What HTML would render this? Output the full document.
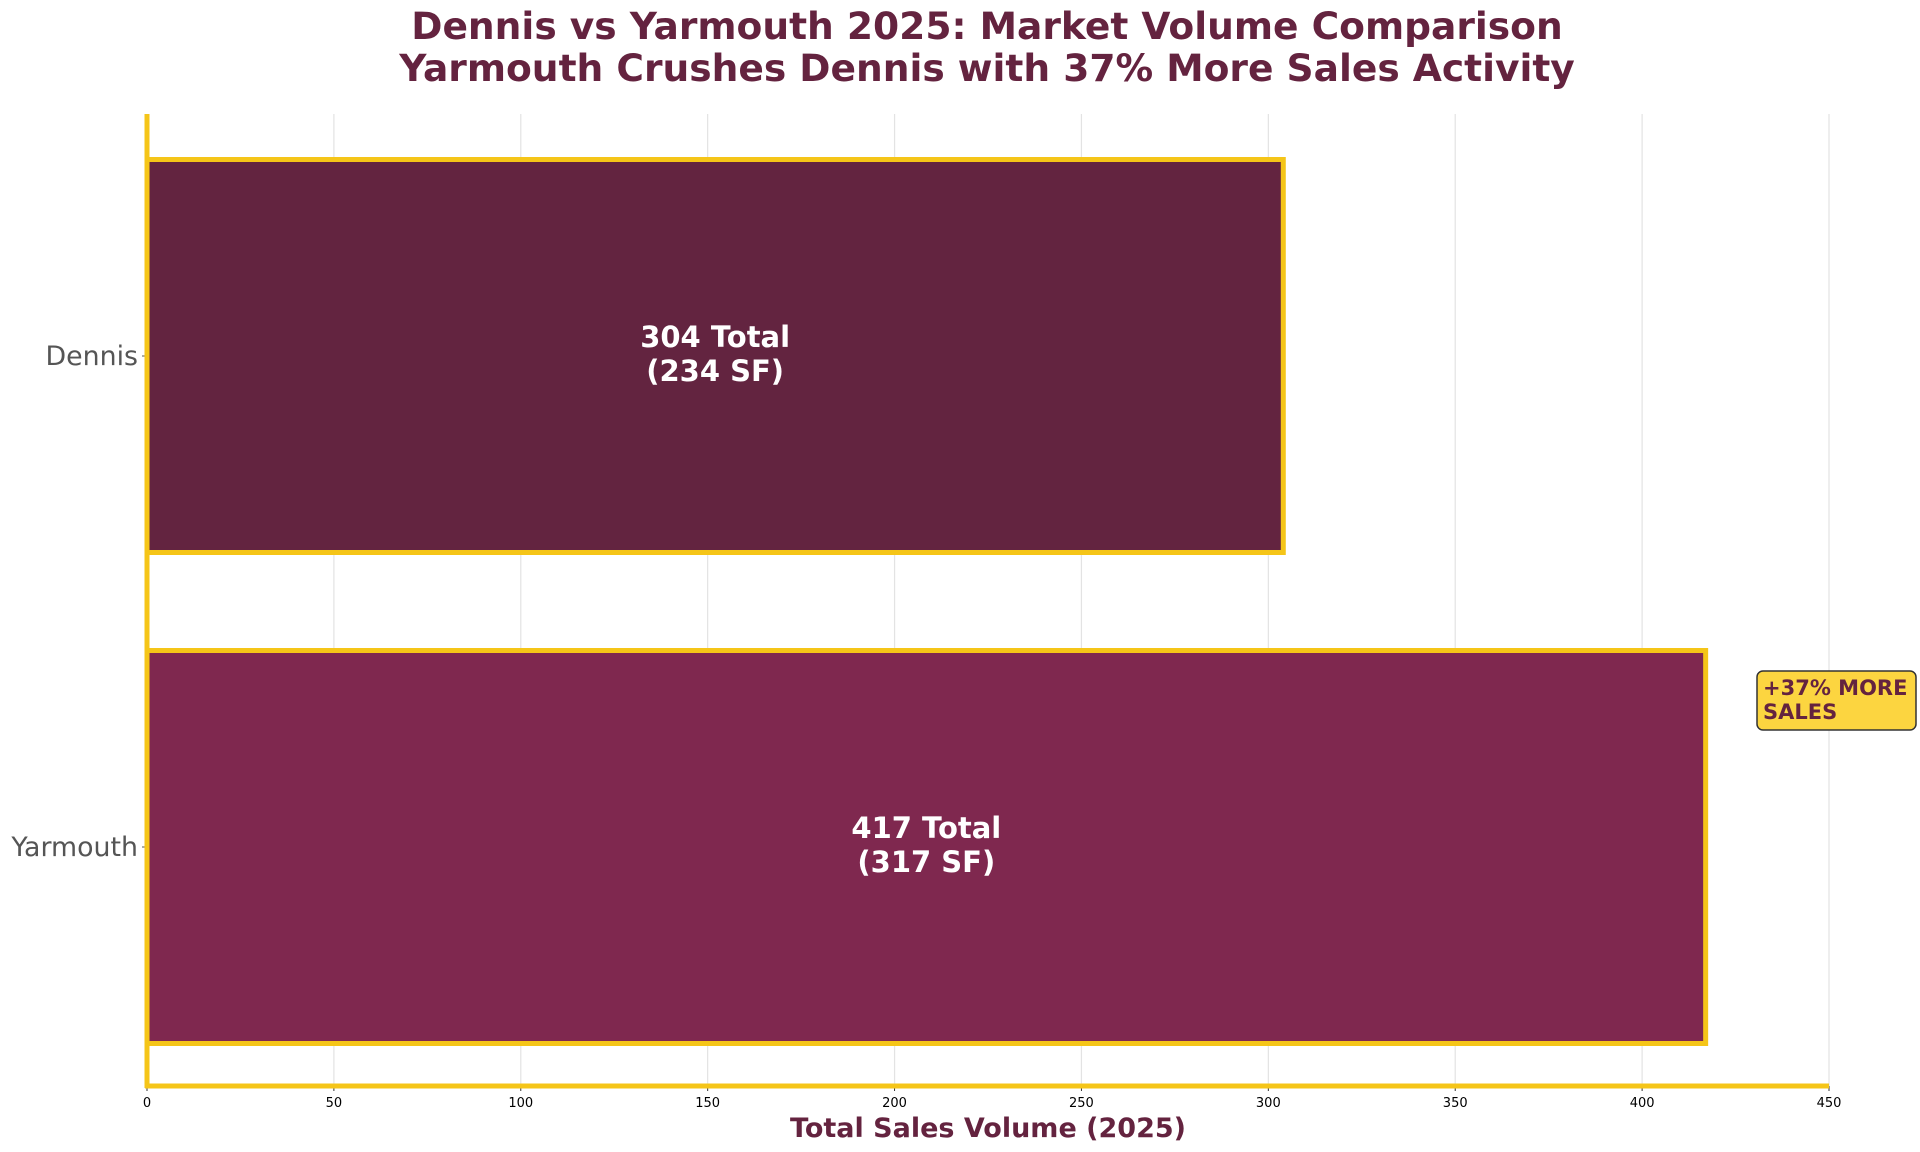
<!DOCTYPE html>
<html><head><meta charset="utf-8"><style>
html,body{margin:0;padding:0;background:#fff;}
svg{display:block;font-family:"DejaVu Sans","Liberation Sans",sans-serif;}
</style></head><body>
<svg id="chart" width="1920" height="1152" viewBox="0 0 1920 1152">
<text x="987" y="39" text-anchor="middle" font-size="37.6" font-weight="bold" fill="#64233f">Dennis vs Yarmouth 2025: Market Volume Comparison</text>
<text x="987" y="81" text-anchor="middle" font-size="37.6" font-weight="bold" fill="#64233f">Yarmouth Crushes Dennis with 37% More Sales Activity</text>
<g id="grid"></g><g id="bars"></g><g id="axes"></g>
<text x="988" y="1137" text-anchor="middle" font-size="27" font-weight="bold" fill="#64233f">Total Sales Volume (2025)</text>
<g>
<rect x="1757" y="671" width="159" height="59" rx="6" fill="#fcd540" stroke="#333" stroke-width="1.5"/>
<text x="1763" y="695" font-size="21" font-weight="bold" fill="#64233f">+37% MORE</text>
<text x="1763" y="719" font-size="21" font-weight="bold" fill="#64233f">SALES</text>
</g>
</svg>
<script>
const categories=["Dennis","Yarmouth"];
const totals=[304,417];
const sf=[234,317];
const colors=["#632440","#7f284f"];
const xTicks=[0,50,100,150,200,250,300,350,400,450];
const NS="http://www.w3.org/2000/svg";
const x0=147,x1=1829,yTop=114,yBot=1086;
const xs=v=>x0+(v/450)*(x1-x0);
const yc=i=>356+i*491;
const bh=393;
function mk(t,a,p,txt){const e=document.createElementNS(NS,t);for(const k in a)e.setAttribute(k,a[k]);if(txt!==undefined)e.textContent=txt;p.appendChild(e);return e;}
const grid=document.getElementById('grid'),bars=document.getElementById('bars'),axes=document.getElementById('axes');
xTicks.forEach(v=>{
 const g=mk('line',{x1:xs(v),x2:xs(v),y1:yTop,y2:yBot,stroke:'#e3e3e3','stroke-width':1.2},grid);
 
 
 const tk=mk('line',{x1:xs(v),x2:xs(v),y1:yBot,y2:yBot+5,stroke:'#333','stroke-width':1},axes);
 
 
 const t=mk('text',{x:xs(v),y:yBot+21,'text-anchor':'middle','font-size':13,fill:'#000'},axes,String(v));
 
 
});
categories.forEach((c,i)=>{
 const r=mk('rect',{x:xs(0),y:yc(i)-bh/2,width:xs(totals[i])-xs(0),height:bh,fill:colors[i],stroke:'#f5c518','stroke-width':5},bars);
 
 
 const mx=xs(totals[i]/2);
 const l1=mk('text',{x:mx,y:yc(i)-9,'text-anchor':'middle','font-size':29,'font-weight':'bold',fill:'#fff'},bars,totals[i]+' Total');
 
 
 const l2=mk('text',{x:mx,y:yc(i)+25,'text-anchor':'middle','font-size':29,'font-weight':'bold',fill:'#fff'},bars,'('+sf[i]+' SF)');
 
 
 const tk=mk('line',{x1:x0-5,x2:x0,y1:yc(i),y2:yc(i),stroke:'#555','stroke-width':1},axes);
 
 
 const yl=mk('text',{x:x0-9,y:yc(i)+9,'text-anchor':'end','font-size':26.8,fill:'#555'},axes,c);
 
 
});
const la=mk('line',{x1:x0,x2:x0,y1:yTop,y2:yBot+2,stroke:'#f5c518','stroke-width':5},axes);


const ba=mk('line',{x1:x0-2,x2:x1,y1:yBot,y2:yBot,stroke:'#f5c518','stroke-width':5},axes);


</script>
</body></html>
